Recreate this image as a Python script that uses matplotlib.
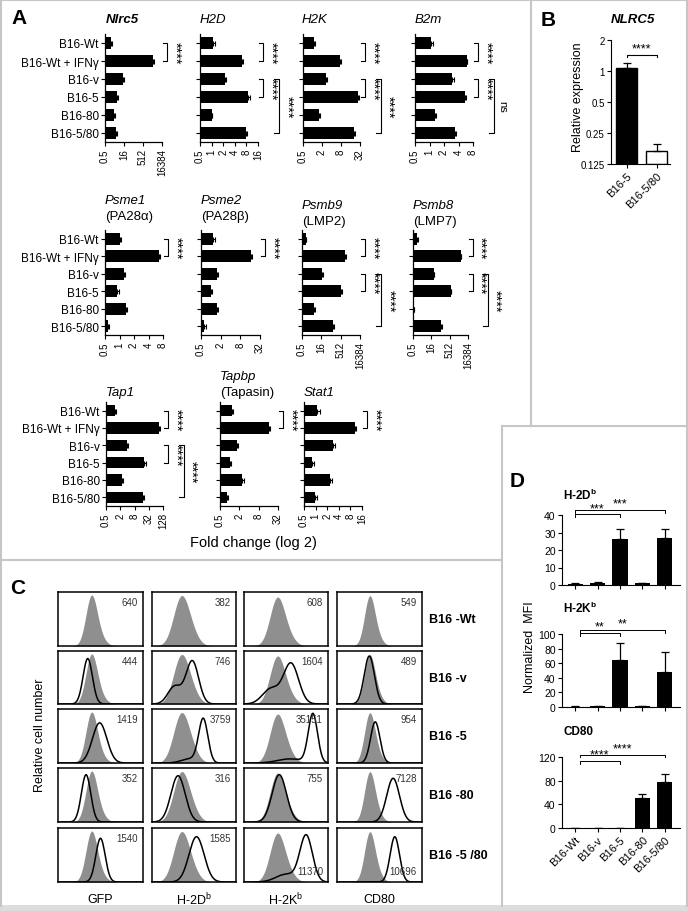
import numpy as np
import matplotlib

matplotlib.use("Agg")
import matplotlib.pyplot as plt
from matplotlib.lines import Line2D
from matplotlib.patches import Rectangle
from matplotlib.ticker import NullLocator
from matplotlib.transforms import blended_transform_factory

plt.rcParams["font.family"] = ["Liberation Sans", "DejaVu Sans"]
plt.rcParams["mathtext.fontset"] = "custom"
plt.rcParams["mathtext.rm"] = "Liberation Sans"
plt.rcParams["mathtext.bf"] = "Liberation Sans:bold"
plt.rcParams["mathtext.it"] = "Liberation Sans:italic"

# ---- panel A: qPCR fold change (log2 axes) ----
cells_a = ["B16-Wt", "B16-Wt + IFNγ", "B16-v", "B16-5", "B16-80", "B16-5/80"]

nlrc5 = [1.4, 3000, 14, 4.2, 2.7, 3.7]
nlrc5_err = [0.3, 600, 2, 0.8, 0.4, 0.6]
h2d = [1.1, 6.3, 2.2, 8.6, 1.0, 7.8]
h2d_err = [0.1, 0.3, 0.2, 1.2, 0.05, 0.6]
h2k = [1.1, 7.5, 2.7, 27, 1.6, 20]
h2k_err = [0.1, 0.4, 0.2, 2, 0.1, 1.5]
b2m = [1.06, 5.9, 3.0, 5.5, 1.3, 3.4]
b2m_err = [0.12, 0.2, 0.2, 0.3, 0.08, 0.2]
psme1 = [1.0, 6.7, 1.24, 0.9, 1.36, 0.57]
psme1_err = [0.1, 0.3, 0.08, 0.08, 0.1, 0.05]
psme2 = [1.2, 16.8, 1.5, 1.0, 1.5, 0.63]
psme2_err = [0.1, 0.8, 0.1, 0.1, 0.1, 0.08]
psmb9 = [1.0, 1100, 17, 550, 4.5, 120]
psmb9_err = [0.1, 150, 3, 150, 0.8, 30]
psmb8 = [1.1, 4100, 26, 600, 0.55, 100]
psmb8_err = [0.15, 400, 3, 120, 0.1, 20]
tap1 = [1.2, 90, 3.7, 20, 2.3, 18]
tap1_err = [0.15, 6, 0.5, 4, 0.2, 2]
tapbp = [1.15, 16.4, 1.65, 1.0, 2.4, 0.8]
tapbp_err = [0.15, 1.0, 0.2, 0.1, 0.3, 0.1]
stat1 = [1.07, 10.5, 2.8, 0.8, 2.3, 0.97]
stat1_err = [0.25, 0.6, 0.35, 0.1, 0.3, 0.1]

ticks_big = [0.5, 16, 512, 16384]
ticks_16 = [0.5, 1, 2, 4, 8, 16]
ticks_8 = [0.5, 1, 2, 4, 8]
ticks_32 = [0.5, 2, 8, 32]
ticks_128 = [0.5, 2, 8, 32, 128]

sig_one = [(0, 1, "****", 0)]
sig_three = [(0, 1, "****", 0), (2, 3, "****", 0), (2, 5, "****", 1)]
sig_b2m = [(0, 1, "****", 0), (2, 3, "****", 0), (2, 5, "ns", 1)]

# ---- panel B ----
nlrc5_cells = ["B16-5", "B16-5/80"]
nlrc5_rel = [1.07, 0.168]
nlrc5_rel_err = [0.13, 0.028]

# ---- panel C: flow histograms (peak position, width, height per component) ----
flow_cols = ["GFP", "H-2D$^{\\rm b}$", "H-2K$^{\\rm b}$", "CD80"]
flow_rows = ["B16 -Wt", "B16 -v", "B16 -5", "B16 -80", "B16 -5 /80"]
flow_mfi = [[640, 382, 608, 549],
            [444, 746, 1604, 489],
            [1419, 3759, 35151, 954],
            [352, 316, 755, 7128],
            [1540, 1585, 11370, 10696]]
gray_peaks = [[(0.39, 0.065, 0.85), (0.46, 0.08, 0.2)],
              [(0.34, 0.09, 0.85), (0.45, 0.09, 0.25)],
              [(0.39, 0.085, 0.85), (0.5, 0.09, 0.2)],
              [(0.38, 0.06, 0.85), (0.45, 0.07, 0.2)]]
line_peaks = [
    [None, None, None, None],
    [[(0.35, 0.055, 0.9)], [(0.27, 0.08, 0.35), (0.48, 0.075, 0.85)],
     [(0.32, 0.1, 0.3), (0.56, 0.09, 0.8)], [(0.38, 0.06, 0.95)]],
    [[(0.49, 0.085, 0.78)], [(0.61, 0.055, 0.85), (0.45, 0.1, 0.08)],
     [(0.82, 0.055, 0.95), (0.55, 0.15, 0.08)], [(0.45, 0.055, 0.8)]],
    [[(0.33, 0.055, 0.92)], [(0.31, 0.085, 0.9)],
     [(0.42, 0.085, 0.92)], [(0.66, 0.075, 0.85)]],
    [[(0.5, 0.055, 0.85)], [(0.53, 0.09, 0.88)],
     [(0.74, 0.075, 0.9), (0.5, 0.12, 0.15)], [(0.68, 0.055, 0.88)]],
]

# ---- panel D: normalized MFI ----
cells_d = ["B16-Wt", "B16-v", "B16-5", "B16-80", "B16-5/80"]
h2db_mfi = [0.8, 1.2, 26.5, 1.2, 27]
h2db_err = [0.2, 0.3, 5.5, 0.2, 4.8]
h2kb_mfi = [0.6, 1.0, 64, 1.5, 48]
h2kb_err = [0.2, 0.3, 23, 0.4, 27]
cd80_mfi = [0.3, 0.5, 0.3, 50, 77]
cd80_err = [0.1, 0.1, 0.1, 7, 15]

W, H = 688, 912
fig = plt.figure(figsize=(W / 100, H / 100), dpi=100)


def add_ax(x0, y0, x1, y1):
    return fig.add_axes([x0 / W, 1 - y1 / H, (x1 - x0) / W, (y1 - y0) / H])


def ftext(x, y, s, **kw):
    fig.text(x / W, 1 - y / H, s, **kw)


def fmt(t):
    return "0.5" if t == 0.5 else str(int(t))


def fold_panel(ax, vals, errs, ticks, sigs, show_labels):
    y = np.arange(len(cells_a))
    vals = np.array(vals, dtype=float)
    ax.barh(y, vals - 0.5, left=0.5, height=0.66, color="black")
    ax.errorbar(vals, y, xerr=[np.zeros(len(vals)), errs], fmt="none",
                ecolor="black", elinewidth=0.8, capsize=1.8, capthick=0.8)
    ax.set_xscale("log", base=2)
    ax.set_xlim(0.5, ticks[-1])
    ax.set_ylim(5.5, -0.5)
    ax.set_xticks(ticks)
    ax.set_xticklabels([fmt(t) for t in ticks], rotation=90, fontsize=7)
    ax.xaxis.set_minor_locator(NullLocator())
    ax.set_yticks(y)
    if show_labels:
        ax.set_yticklabels(cells_a, fontsize=8.5)
    else:
        ax.set_yticklabels([])
    for s in ["top", "right"]:
        ax.spines[s].set_visible(False)
    for s in ["left", "bottom"]:
        ax.spines[s].set_linewidth(0.9)
    ax.tick_params(length=3, width=0.8, pad=1.5)
    trans = blended_transform_factory(ax.transAxes, ax.transData)
    for i, j, lab, lev in sigs:
        xt, xv, xl = (1.01, 1.09, 1.22) if lev == 0 else (1.28, 1.36, 1.5)
        ax.plot([xt, xv, xv, xt], [i, i, j, j], transform=trans,
                clip_on=False, color="black", lw=0.8)
        if lab == "ns":
            ax.text(xl, (i + j) / 2, lab, rotation=270, ha="center",
                    va="center", transform=trans, fontsize=8)
        else:
            ax.text(xl, (i + j) / 2, lab, rotation=270, ha="center",
                    va="center", transform=trans, fontsize=10.5)


genes = [
    ("Nlrc5", nlrc5, nlrc5_err, ticks_big, sig_one, (105, 35, 162, 143)),
    ("H2D", h2d, h2d_err, ticks_16, sig_three, (200, 35, 258, 143)),
    ("H2K", h2k, h2k_err, ticks_32, sig_three, (303, 35, 360, 143)),
    ("B2m", b2m, b2m_err, ticks_8, sig_b2m, (415, 35, 473, 143)),
    ("Psme1", psme1, psme1_err, ticks_8, sig_one, (105, 231, 163, 336)),
    ("Psme2", psme2, psme2_err, ticks_32, sig_one, (201, 231, 260, 336)),
    ("Psmb9", psmb9, psmb9_err, ticks_big, sig_three, (302, 231, 360, 336)),
    ("Psmb8", psmb8, psmb8_err, ticks_big, sig_three, (413, 231, 468, 336)),
    ("Tap1", tap1, tap1_err, ticks_128, sig_three, (106, 403, 163, 507)),
    ("Tapbp", tapbp, tapbp_err, ticks_32, sig_one, (220, 403, 278, 507)),
    ("Stat1", stat1, stat1_err, ticks_16, sig_one, (304, 403, 362, 507)),
]
for name, vals, errs, ticks, sigs, box in genes:
    ax = add_ax(*box)
    fold_panel(ax, vals, errs, ticks, sigs, box[0] < 110)

ttl = dict(fontsize=9.5, style="italic", ha="left", va="center")
ftext(106, 20, "Nlrc5", fontweight="bold", **ttl)
ftext(200, 20, "H2D", **ttl)
ftext(302, 20, "H2K", **ttl)
ftext(415, 20, "B2m", **ttl)
ftext(105, 201, "Psme1", **ttl)
ftext(201, 201, "Psme2", **ttl)
ftext(302, 206, "Psmb9", **ttl)
ftext(413, 206, "Psmb8", **ttl)
sub = dict(fontsize=9.5, ha="left", va="center")
ftext(105, 217, "(PA28α)", **sub)
ftext(201, 217, "(PA28β)", **sub)
ftext(302, 222, "(LMP2)", **sub)
ftext(413, 222, "(LMP7)", **sub)
ftext(106, 393, "Tap1", **ttl)
ftext(220, 377, "Tapbp", **ttl)
ftext(220, 393, "(Tapasin)", **sub)
ftext(304, 393, "Stat1", **ttl)
ftext(253, 543, "Fold change (log 2)", fontsize=10.5, ha="center", va="center")

# ---- panel B ----
axb = add_ax(611, 41, 670, 165)
xb = np.arange(len(nlrc5_cells))
rel = np.array(nlrc5_rel)
axb.bar(xb, rel - 0.125, bottom=0.125, width=0.69,
        color=["black", "white"], edgecolor="black", linewidth=1.0)
axb.errorbar(xb, rel, yerr=[np.zeros(2), nlrc5_rel_err], fmt="none",
             ecolor="black", elinewidth=0.9, capsize=3, capthick=0.9)
axb.set_yscale("log", base=2)
axb.set_ylim(0.125, 2)
axb.set_xlim(-0.51, 1.43)
axb.set_yticks([0.125, 0.25, 0.5, 1, 2])
axb.set_yticklabels(["0.125", "0.25", "0.5", "1", "2"], fontsize=7)
axb.yaxis.set_minor_locator(NullLocator())
axb.set_xticks(xb)
axb.set_xticklabels(nlrc5_cells, rotation=45, ha="right",
                    rotation_mode="anchor", fontsize=8)
for s in ["top", "right"]:
    axb.spines[s].set_visible(False)
axb.tick_params(length=3, width=0.8, pad=1.5)
tb = blended_transform_factory(axb.transData, axb.transAxes)
axb.plot([0, 0, 1, 1], [0.86, 0.88, 0.88, 0.86], transform=tb,
         clip_on=False, color="black", lw=0.8)
axb.text(0.5, 0.885, "****", transform=tb, ha="center", va="bottom", fontsize=9)
ftext(633, 20, "NLRC5", fontsize=9.5, fontweight="bold", style="italic",
      ha="center", va="center")
ftext(578, 97, "Relative expression", fontsize=9, rotation=90,
      ha="center", va="center")

# ---- panel C ----
col_x = [(58, 143), (152, 236), (244, 328), (337, 422)]
row_y = [(593, 647), (652, 705), (710, 764), (769, 823), (829, 883)]
xs = np.linspace(0, 1, 300)


def peaks(comps):
    y = np.zeros_like(xs)
    for c, w, h in comps:
        y += h * np.exp(-0.5 * ((xs - c) / w) ** 2)
    return y


for r, (y0, y1) in enumerate(row_y):
    for c, (x0, x1) in enumerate(col_x):
        ax = add_ax(x0, y0, x1, y1)
        ax.fill_between(xs, 0, peaks(gray_peaks[c]), color="#8f8f8f", lw=0)
        if line_peaks[r][c] is not None:
            ax.plot(xs, peaks(line_peaks[r][c]), color="black", lw=1.1)
        ax.set_xlim(0, 1)
        ax.set_ylim(0, 1.05)
        ax.set_xticks([])
        ax.set_yticks([])
        for s in ax.spines.values():
            s.set_linewidth(1.1)
        low = r == 4 and c >= 2
        ax.text(0.94, 0.2 if low else 0.82, str(flow_mfi[r][c]),
                transform=ax.transAxes, ha="right", va="center",
                fontsize=7, color="#333333")
    ftext(429, (y0 + y1) / 2, flow_rows[r], fontsize=9, fontweight="bold",
          ha="left", va="center")
for c, (x0, x1) in enumerate(col_x):
    ftext((x0 + x1) / 2, 900, flow_cols[c], fontsize=9, ha="center", va="center")
ftext(40, 735, "Relative cell number", fontsize=9, rotation=90,
      ha="center", va="center")

# ---- panel D ----
d_sets = [
    ("H-2D$^{\\bf b}$", h2db_mfi, h2db_err, (562, 516, 680, 586), 40,
     [0, 10, 20, 30, 40], "***", (40.3, 43.0), 495),
    ("H-2K$^{\\bf b}$", h2kb_mfi, h2kb_err, (562, 635, 680, 708), 100,
     [0, 20, 40, 60, 80, 100], "**", (101, 106), 608),
    ("CD80", cd80_mfi, cd80_err, (562, 758, 680, 829), 120,
     [0, 40, 80, 120], "****", (113, 124), 732),
]
xd = np.arange(len(cells_d))
for k, (title, vals, errs, box, top, yt, star, levels, ty) in enumerate(d_sets):
    ax = add_ax(*box)
    ax.bar(xd, vals, width=0.67, color="black")
    ax.errorbar(xd, vals, yerr=[np.zeros(len(vals)), errs], fmt="none",
                ecolor="black", elinewidth=0.9, capsize=3, capthick=0.9)
    ax.set_xlim(-0.58, 4.67)
    ax.set_ylim(0, top)
    ax.set_yticks(yt)
    ax.set_yticklabels([str(v) for v in yt], fontsize=7.5)
    ax.set_xticks(xd)
    if k == 2:
        ax.set_xticklabels(cells_d, rotation=45, ha="right",
                           rotation_mode="anchor", fontsize=8)
    else:
        ax.set_xticklabels([])
    for s in ["top", "right"]:
        ax.spines[s].set_visible(False)
    ax.tick_params(length=3, width=0.8, pad=1.5)
    tick = top * 0.04
    x_start = 0.0 if k == 0 else 0.2
    for xe, yb in [(2, levels[0]), (4, levels[1])]:
        ax.plot([x_start, x_start, xe, xe], [yb - tick, yb, yb, yb - tick],
                clip_on=False, color="black", lw=0.7)
        ax.text((x_start + xe) / 2, yb + top * 0.005, star, ha="center",
                va="bottom", fontsize=9, clip_on=False)
    ftext(563, ty, title, fontsize=8.5, fontweight="bold", ha="left", va="center")
ftext(530, 647, "Normalized  MFI", fontsize=9, rotation=90, ha="center", va="center")

# ---- panel letters and frames ----
for lab, x, y in [("A", 19, 19), ("B", 548, 20), ("C", 18, 588), ("D", 517, 482)]:
    ftext(x, y, lab, fontsize=15, fontweight="bold", ha="center", va="center")

frame = "#c6c6c6"
segs = [((1, 0), (1, 907)), ((0, 1), (688, 1)), ((687, 0), (687, 907)),
        ((531, 0), (531, 427)), ((502, 427), (688, 427)),
        ((502, 427), (502, 907)), ((0, 561), (502, 561))]
for (xa, ya), (xb2, yb2) in segs:
    fig.add_artist(Line2D([xa / W, xb2 / W], [1 - ya / H, 1 - yb2 / H],
                          color=frame, lw=1.5, transform=fig.transFigure))
fig.add_artist(Rectangle((0, 0), 1, 6 / H, transform=fig.transFigure,
                         color="#dcdcdc", lw=0))

fig.savefig("out.png", dpi=100)
